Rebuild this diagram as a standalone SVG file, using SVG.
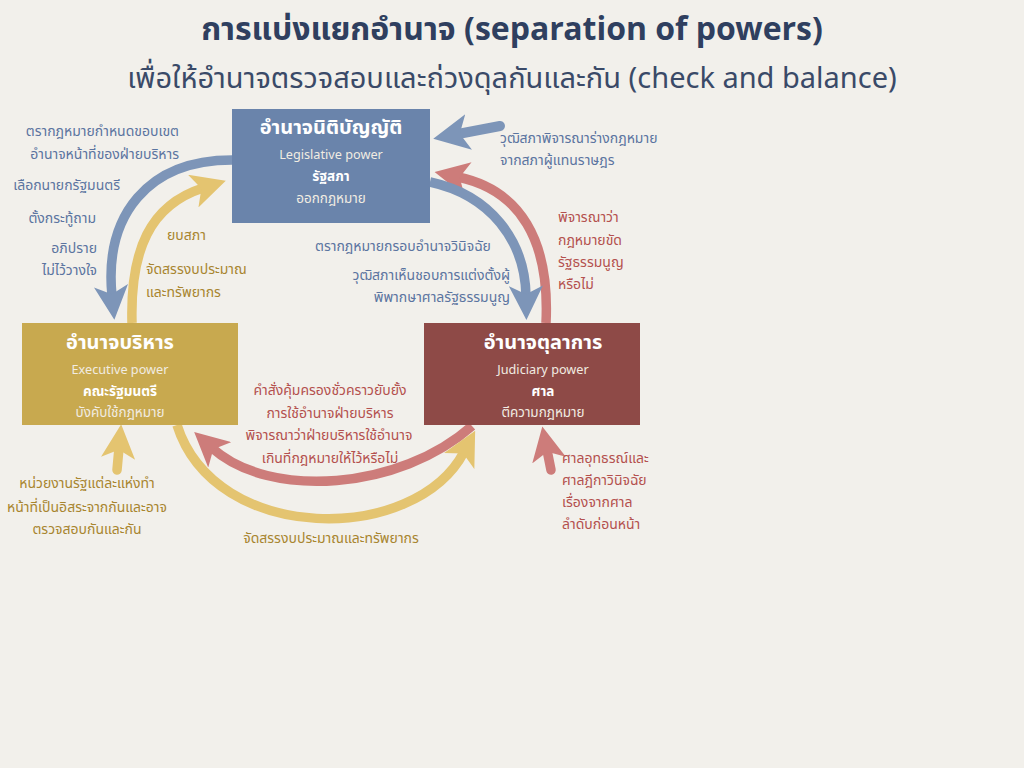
<svg xmlns="http://www.w3.org/2000/svg" width="1024" height="768" viewBox="0 0 1024 768">
  <defs>
    <style>
      text { font-family: "Noto Sans Thai", "Noto Sans", "DejaVu Sans", sans-serif; }
      .title { font-size: 32px; font-weight: bold; fill: #2f3f5f; }
      .sub { font-size: 29px; fill: #3a4a68; }
      .nt { font-size: 20px; font-weight: bold; fill: #ffffff; text-anchor: middle; }
      .ne { font-size: 12.7px; fill: #f1ece2; text-anchor: middle; }
      .nb { font-size: 13.5px; font-weight: bold; fill: #ffffff; text-anchor: middle; }
      .nr { font-size: 13.5px; fill: #f1ece2; text-anchor: middle; }
      .lb { font-size: 14px; fill: #5b74a0; }
      .lg { font-size: 14px; fill: #a8852f; }
      .lr { font-size: 14px; fill: #b4504e; }
      .a { fill: none; stroke-width: 9.5; }
      .ab { stroke: #7d95b8; }
      .ay { stroke: #e4c470; }
      .ar { stroke: #cd7c7a; }
    </style>
    <marker id="hb" viewBox="0 0 10 10" refX="3" refY="5" markerWidth="3.6" markerHeight="3.6" orient="auto">
      <path d="M0,0 L10,5 L0,10 L2.5,5 z" fill="#7d95b8"/>
    </marker>
    <marker id="hy" viewBox="0 0 10 10" refX="3" refY="5" markerWidth="3.6" markerHeight="3.6" orient="auto">
      <path d="M0,0 L10,5 L0,10 L2.5,5 z" fill="#e4c470"/>
    </marker>
    <marker id="hr" viewBox="0 0 10 10" refX="3" refY="5" markerWidth="3.6" markerHeight="3.6" orient="auto">
      <path d="M0,0 L10,5 L0,10 L2.5,5 z" fill="#cd7c7a"/>
    </marker>
  </defs>

  <!-- paper background -->
  <rect width="1024" height="768" fill="#f2f0eb"/>

  <!-- headings -->
  <text class="title" x="512" y="40" text-anchor="middle">การแบ่งแยกอำนาจ (separation of powers)</text>
  <text class="sub" x="512" y="88" text-anchor="middle">เพื่อให้อำนาจตรวจสอบและถ่วงดุลกันและกัน (check and balance)</text>

  <!-- connectors -->
  <g id="connectors">
    <path class="a ab" d="M232 160 C148 160 104 215 112 296" marker-end="url(#hb)"/>
    <path class="a ay" d="M132 323 C130 250 150 205 203 188" marker-end="url(#hy)"/>
    <path class="a ab" d="M500 126 L458 134" stroke-linecap="round" marker-end="url(#hb)" style="stroke-width:10"/>
    <path class="a ar" d="M546 323 C550 240 520 190 458 177" marker-end="url(#hr)"/>
    <path class="a ab" d="M430 182 C490 195 525 240 526 296" marker-end="url(#hb)"/>
    <path class="a ar" d="M472 426 C400 490 270 500 212 448" marker-end="url(#hr)"/>
    <path class="a ay" d="M177 425 C215 545 415 545 464 452" marker-end="url(#hy)"/>
    <path class="a ay" d="M117 470 L119 448" stroke-linecap="round" marker-end="url(#hy)"/>
    <path class="a ar" d="M551 470 L547 450" stroke-linecap="round" marker-end="url(#hr)"/>
  </g>

  <!-- legislative -->
  <g id="legislative">
    <rect x="232" y="109" width="198" height="114" fill="#6a84ab"/>
    <text class="nt" x="331" y="134">อำนาจนิติบัญญัติ</text>
    <text class="ne" x="331" y="159">Legislative power</text>
    <text class="nb" x="331" y="181">รัฐสภา</text>
    <text class="nr" x="331" y="203">ออกกฎหมาย</text>
  </g>

  <!-- executive -->
  <g id="executive">
    <rect x="22" y="323" width="216" height="102" fill="#c8a94f"/>
    <text class="nt" x="120" y="349">อำนาจบริหาร</text>
    <text class="ne" x="120" y="374">Executive power</text>
    <text class="nb" x="120" y="396">คณะรัฐมนตรี</text>
    <text class="nr" x="120" y="417">บังคับใช้กฎหมาย</text>
  </g>

  <!-- judiciary -->
  <g id="judiciary">
    <rect x="424" y="323" width="216" height="102" fill="#8e4a47"/>
    <text class="nt" x="543" y="349">อำนาจตุลาการ</text>
    <text class="ne" x="543" y="374">Judiciary power</text>
    <text class="nb" x="543" y="396">ศาล</text>
    <text class="nr" x="543" y="417">ตีความกฎหมาย</text>
  </g>

  <!-- labels: legislative over executive -->
  <g text-anchor="end">
    <text class="lb" x="179" y="136">ตรากฎหมายกำหนดขอบเขต</text>
    <text class="lb" x="179" y="159">อำนาจหน้าที่ของฝ่ายบริหาร</text>
    <text class="lb" x="120" y="190">เลือกนายกรัฐมนตรี</text>
    <text class="lb" x="96" y="223">ตั้งกระทู้ถาม</text>
    <text class="lb" x="97" y="253">อภิปราย</text>
    <text class="lb" x="97" y="275">ไม่ไว้วางใจ</text>
  </g>

  <!-- labels: executive over legislative -->
  <text class="lg" x="167" y="240">ยบสภา</text>
  <text class="lg" x="146" y="274">จัดสรรงบประมาณ</text>
  <text class="lg" x="146" y="297">และทรัพยากร</text>

  <!-- labels: legislative over judiciary -->
  <text class="lb" x="315" y="251">ตรากฎหมายกรอบอำนาจวินิจฉัย</text>
  <text class="lb" x="510" y="280" text-anchor="end">วุฒิสภาเห็นชอบการแต่งตั้งผู้</text>
  <text class="lb" x="510" y="302" text-anchor="end">พิพากษาศาลรัฐธรรมนูญ</text>

  <!-- labels: senate review -->
  <text class="lb" x="500" y="143">วุฒิสภาพิจารณาร่างกฎหมาย</text>
  <text class="lb" x="500" y="165">จากสภาผู้แทนราษฎร</text>

  <!-- labels: judiciary over legislative -->
  <text class="lr" x="558" y="222">พิจารณาว่า</text>
  <text class="lr" x="558" y="245">กฎหมายขัด</text>
  <text class="lr" x="558" y="267">รัฐธรรมนูญ</text>
  <text class="lr" x="558" y="289">หรือไม่</text>

  <!-- labels: judiciary over executive -->
  <g text-anchor="middle">
    <text class="lr" x="330" y="395">คำสั่งคุ้มครองชั่วคราวยับยั้ง</text>
    <text class="lr" x="330" y="418">การใช้อำนาจฝ่ายบริหาร</text>
    <text class="lr" x="329" y="440">พิจารณาว่าฝ่ายบริหารใช้อำนาจ</text>
    <text class="lr" x="330" y="463">เกินที่กฎหมายให้ไว้หรือไม่</text>
  </g>

  <!-- labels: appeals -->
  <text class="lr" x="562" y="463">ศาลอุทธรณ์และ</text>
  <text class="lr" x="562" y="485">ศาลฎีกาวินิจฉัย</text>
  <text class="lr" x="562" y="507">เรื่องจากศาล</text>
  <text class="lr" x="562" y="529">ลำดับก่อนหน้า</text>

  <!-- labels: independence -->
  <g text-anchor="middle">
    <text class="lg" x="87" y="488">หน่วยงานรัฐแต่ละแห่งทำ</text>
    <text class="lg" x="87" y="512">หน้าที่เป็นอิสระจากกันและอาจ</text>
    <text class="lg" x="87" y="534">ตรวจสอบกันและกัน</text>
    <text class="lg" x="331" y="543">จัดสรรงบประมาณและทรัพยากร</text>
  </g>
</svg>
